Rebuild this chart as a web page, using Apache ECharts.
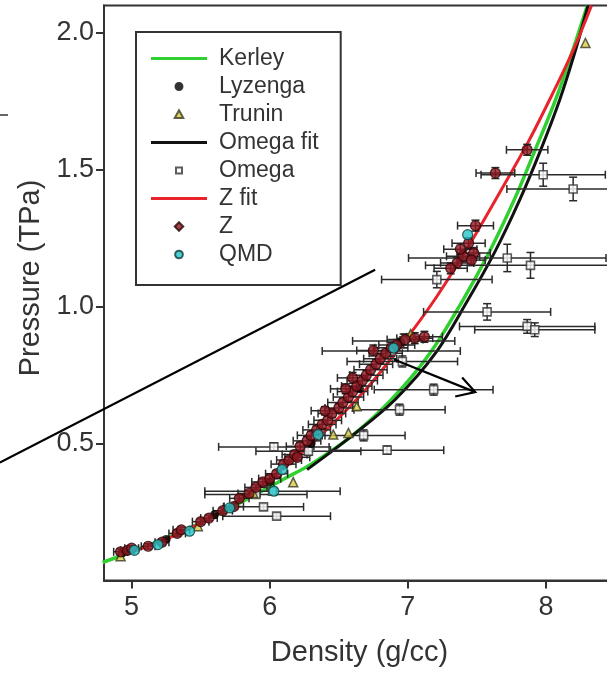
<!DOCTYPE html>
<html><head><meta charset="utf-8">
<script src="https://cdn.jsdelivr.net/npm/echarts@6/dist/echarts.min.js"></script>
<style>html,body{margin:0;padding:0;background:#fff}#c{width:607px;height:675px}</style>
</head><body><div id="c"></div>
<script>
// ---- tick labels ----
const xTicks = [5, 6, 7, 8];
const yTicks = [0.5, 1.0, 1.5, 2.0];

// ---- fit curves (density g/cc, pressure TPa) ----
const kerleyD = [4.79, 5.0, 5.3, 5.6, 5.9, 6.1, 6.3, 6.6, 6.88, 7.16, 7.40, 7.59, 7.77, 7.92, 8.07, 8.19, 8.30];
const kerleyP = [0.066, 0.105, 0.165, 0.235, 0.315, 0.37, 0.425, 0.53, 0.66, 0.83, 1.025, 1.2, 1.39, 1.57, 1.756, 1.93, 2.1];
const omegaFitD = [6.27, 6.6, 6.907, 7.2, 7.436, 7.63, 7.81, 7.96, 8.10, 8.21, 8.305];
const omegaFitP = [0.405, 0.53, 0.66, 0.83, 1.025, 1.2, 1.39, 1.57, 1.756, 1.93, 2.1];
const zFitD = [4.9, 5.2, 5.5, 5.8, 6.1, 6.4, 6.7, 6.97, 7.2, 7.45, 7.68, 7.87, 8.05, 8.2, 8.33];
const zFitP = [0.09, 0.14, 0.21, 0.30, 0.41, 0.545, 0.70, 0.87, 1.03, 1.23, 1.43, 1.6, 1.78, 1.94, 2.1];

// ---- Lyzenga ----
const lyzD = [4.93, 5.25, 5.6, 6.0, 6.3, 6.65, 6.95];
const lyzP = [0.10, 0.15, 0.24, 0.36, 0.50, 0.70, 0.87];

// ---- Trunin ----
const truD = [8.286, 6.17, 6.46, 6.57, 6.63, 4.92, 5.48, 5.88, 7.02];
const truP = [1.963, 0.359, 0.533, 0.539, 0.636, 0.089, 0.198, 0.32, 0.90];

// ---- Omega (density, pressure, density error, pressure error) ----
const omD  = [7.98, 8.197, 7.72, 7.888, 7.21, 7.574, 7.864, 7.919, 7.187, 6.94, 6.68, 6.85, 6.97, 6.88, 6.96, 6.03, 6.28, 5.955, 6.05, 6.02, 5.9];
const omP  = [1.482, 1.43, 1.178, 1.151, 1.099, 0.981, 0.928, 0.916, 0.697, 0.624, 0.53, 0.476, 0.875, 0.838, 0.80, 0.488, 0.472, 0.269, 0.235, 0.326, 0.314];
const omDx = [0.45, 0.48, 0.715, 0.76, 0.40, 0.46, 0.49, 0.435, 0.43, 0.33, 0.30, 0.41, 0.37, 0.50, 0.40, 0.40, 0.38, 0.29, 0.39, 0.49, 0.37];
const omPy = [0.042, 0.043, 0.05, 0.047, 0.03, 0.03, 0.025, 0.025, 0.02, 0.02, 0.02, 0.015, 0.025, 0.02, 0.02, 0.015, 0.015, 0.01, 0.01, 0.01, 0.01];

// ---- Z (density, pressure, density error, pressure error) ----
const zD  = [7.864, 7.634, 7.49, 7.44, 7.477, 7.40, 7.357, 7.31, 7.46, 7.38,
             4.92, 4.97, 5.0, 5.12, 5.22, 5.33, 5.36, 5.5, 5.56, 5.66, 5.74, 5.78, 5.85, 5.9, 5.95, 6.0,
             6.05, 6.1, 6.14, 6.18, 6.22, 6.27, 6.3, 6.34, 6.38, 6.42, 6.45, 6.5, 6.53, 6.57, 6.6, 6.63,
             6.67, 6.7, 6.73, 6.77, 6.8, 6.84, 6.88, 6.92, 6.98, 7.05, 7.12, 6.75, 6.6, 6.4, 6.55, 6.2];
const zP  = [1.573, 1.488, 1.296, 1.232, 1.196, 1.184, 1.16, 1.14, 1.17, 1.21,
             0.105, 0.11, 0.118, 0.125, 0.14, 0.172, 0.185, 0.215, 0.228, 0.255, 0.27, 0.30, 0.318, 0.34, 0.36, 0.372,
             0.39, 0.425, 0.44, 0.46, 0.49, 0.51, 0.53, 0.55, 0.57, 0.585, 0.61, 0.63, 0.65, 0.67, 0.69, 0.71,
             0.73, 0.75, 0.77, 0.79, 0.81, 0.83, 0.85, 0.86, 0.88, 0.885, 0.89, 0.84, 0.74, 0.62, 0.70, 0.45];
const zDx = [0.15, 0.14, 0.13, 0.12, 0.12, 0.12, 0.12, 0.12, 0.10, 0.12,
             0.05, 0.05, 0.05, 0.05, 0.05, 0.06, 0.06, 0.06, 0.06, 0.07, 0.07, 0.07, 0.08, 0.08, 0.08, 0.08,
             0.08, 0.09, 0.09, 0.09, 0.10, 0.10, 0.10, 0.10, 0.10, 0.10, 0.10, 0.10, 0.11, 0.11, 0.11, 0.11,
             0.11, 0.12, 0.12, 0.12, 0.12, 0.12, 0.12, 0.13, 0.13, 0.13, 0.13, 0.12, 0.11, 0.10, 0.11, 0.09];
const zPy = [0.02, 0.02, 0.02, 0.02, 0.02, 0.02, 0.02, 0.02, 0.02, 0.02,
             0.01, 0.01, 0.01, 0.01, 0.01, 0.01, 0.01, 0.01, 0.01, 0.01, 0.01, 0.01, 0.01, 0.01, 0.012, 0.012,
             0.012, 0.012, 0.012, 0.015, 0.015, 0.015, 0.015, 0.015, 0.015, 0.015, 0.015, 0.015, 0.015, 0.015, 0.018, 0.018,
             0.018, 0.018, 0.018, 0.018, 0.018, 0.02, 0.02, 0.02, 0.02, 0.02, 0.02, 0.02, 0.02, 0.015, 0.018, 0.012];

// ---- QMD ----
const qmdD = [5.02, 5.19, 5.42, 5.71, 6.03, 6.09, 6.35, 6.897, 7.433];
const qmdP = [0.11, 0.131, 0.18, 0.265, 0.326, 0.405, 0.533, 0.849, 1.263];

// ---- hand-drawn annotation strokes (data coordinates) ----
const annoLongLine = [[4.046, 0.431], [6.763, 1.135]];
const annoArrow = [[6.90, 0.807], [7.488, 0.688]];
const annoArrowHead = [[7.343, 0.672], [7.488, 0.688], [7.393, 0.741]];

const pairs = (a, b) => a.map((v, i) => [v, b[i]]);
const quads = (a, b, c, d) => a.map((v, i) => [v, b[i], c[i], d[i]]);

const FONT = 'Liberation Sans, Arial, sans-serif';
const chart = echarts.init(document.getElementById('c'), null, {renderer: 'canvas'});

function errRender(params, api) {
  const d = api.value(0), p = api.value(1), dx = api.value(2), dy = api.value(3);
  const L = api.coord([d - dx, p]), R = api.coord([d + dx, p]);
  const B = api.coord([d, p - dy]), T = api.coord([d, p + dy]);
  const st = {stroke: '#2a2a2a', lineWidth: 1.5};
  const c = 4;
  const ch = [
    {type: 'line', shape: {x1: L[0], y1: L[1], x2: R[0], y2: R[1]}, style: st},
    {type: 'line', shape: {x1: L[0], y1: L[1] - c, x2: L[0], y2: L[1] + c}, style: st},
    {type: 'line', shape: {x1: R[0], y1: R[1] - c, x2: R[0], y2: R[1] + c}, style: st}
  ];
  if (Math.abs(B[1] - T[1]) > 3) {
    ch.push({type: 'line', shape: {x1: B[0], y1: B[1], x2: T[0], y2: T[1]}, style: st});
    ch.push({type: 'line', shape: {x1: B[0] - c, y1: B[1], x2: B[0] + c, y2: B[1]}, style: st});
    ch.push({type: 'line', shape: {x1: T[0] - c, y1: T[1], x2: T[0] + c, y2: T[1]}, style: st});
  }
  return {type: 'group', children: ch};
}

const LINE_ICON = 'path://M0,0H56V3.2H0Z';
const option = {
  backgroundColor: '#fff',
  animation: false,
  grid: {left: 104, top: 5.5, width: 511, height: 575, outerBoundsMode: 'none', containLabel: false,
    show: true, borderColor: '#333', borderWidth: 2, backgroundColor: 'transparent'},
  xAxis: {
    type: 'value', min: 4.8, max: 8.5,
    name: 'Density (g/cc)', nameLocation: 'middle', nameGap: 58,
    nameTextStyle: {fontFamily: FONT, fontSize: 29, color: '#333'},
    axisLine: {show: true, lineStyle: {color: '#333', width: 2}},
    axisTick: {show: true, customValues: xTicks, length: 8, lineStyle: {color: '#333', width: 2}},
    axisLabel: {customValues: xTicks, fontFamily: FONT, fontSize: 27, color: '#333', margin: 14},
    splitLine: {show: false}
  },
  yAxis: {
    type: 'value', min: 0, max: 2.1,
    name: 'Pressure (TPa)', nameLocation: 'middle', nameGap: 58, nameRotate: 90,
    nameTextStyle: {fontFamily: FONT, fontSize: 29, color: '#333', padding: [0, 0, 0, 30]},
    axisLine: {show: true, lineStyle: {color: '#333', width: 2}},
    axisTick: {show: true, customValues: yTicks, length: 8, lineStyle: {color: '#333', width: 2}},
    axisLabel: {customValues: yTicks, fontFamily: FONT, fontSize: 27, color: '#333', margin: 10,
      formatter: v => v.toFixed(1)},
    splitLine: {show: false}
  },
  legend: {
    orient: 'vertical', left: 136, top: 32,
    data: [
      {name: 'Kerley', icon: LINE_ICON},
      {name: 'Lyzenga', icon: 'path://M0,0M7,1.8A5.2,5.2,0,1,1,6.99,1.8ZM14,14'},
      {name: 'Trunin', icon: 'path://M0,0M7,2L12,11H2ZM14,14'},
      {name: 'Omega fit', icon: LINE_ICON},
      {name: 'Omega', icon: 'path://M0,0M3.5,3.5H10.5V10.5H3.5ZM14,14'},
      {name: 'Z fit', icon: LINE_ICON},
      {name: 'Z', icon: 'path://M0,0M7,2L12,7L7,12L2,7ZM14,14'},
      {name: 'QMD', icon: 'path://M0,0M7,2.5A4.5,4.5,0,1,1,6.99,2.5ZM14,14'}
    ],
    itemWidth: 56, itemHeight: 12, itemGap: 5, symbolKeepAspect: true,
    padding: [15, 22, 19, 15],
    borderColor: '#333', borderWidth: 2, backgroundColor: '#fff',
    textStyle: {fontFamily: FONT, fontSize: 23, color: '#333', padding: [0, 0, 0, 7]},
    selectedMode: false
  },
  series: [
    {name: 'Kerley', type: 'line', data: pairs(kerleyD, kerleyP), smooth: 0.35, symbol: 'none',
      lineStyle: {color: '#2fd02f', width: 3.5}, itemStyle: {color: '#2fd02f'}, z: 2},
    {name: 'Omega fit', type: 'line', data: pairs(omegaFitD, omegaFitP), smooth: 0.35, symbol: 'none',
      lineStyle: {color: '#111', width: 3}, itemStyle: {color: '#111'}, z: 2},
    {name: 'Z fit', type: 'line', data: pairs(zFitD, zFitP), smooth: 0.35, symbol: 'none',
      lineStyle: {color: '#e8232b', width: 3}, itemStyle: {color: '#e8232b'}, z: 2},
    {name: 'OmegaErr', type: 'custom', renderItem: errRender, data: quads(omD, omP, omDx, omPy),
      encode: {x: 0, y: 1}, z: 3, silent: true},
    {name: 'ZErr', type: 'custom', renderItem: errRender, data: quads(zD, zP, zDx, zPy),
      encode: {x: 0, y: 1}, z: 3, silent: true},
    {name: 'Omega', type: 'scatter', data: pairs(omD, omP), symbol: 'rect', symbolSize: 8,
      itemStyle: {color: '#fff', borderColor: '#333', borderWidth: 1.6}, z: 4},
    {name: 'Lyzenga', type: 'scatter', data: pairs(lyzD, lyzP), symbol: 'circle', symbolSize: 9,
      itemStyle: {color: '#000'}, z: 4},
    {name: 'Trunin', type: 'scatter', data: pairs(truD, truP), symbol: 'triangle', symbolSize: 9,
      itemStyle: {color: '#d8cc45', borderColor: '#3a3a20', borderWidth: 1.5}, z: 5},
    {name: 'Z', type: 'scatter', data: pairs(zD, zP), symbol: 'circle', symbolSize: 10,
      itemStyle: {color: '#8e1620', borderColor: '#2a0505', borderWidth: 1.2}, z: 5},
    {name: 'QMD', type: 'scatter', data: pairs(qmdD, qmdP), symbol: 'circle', symbolSize: 10,
      itemStyle: {color: '#26c4c8', borderColor: '#0b3b3b', borderWidth: 1.2}, z: 6}
  ]
};
chart.setOption(option);

// annotations drawn in data coordinates, converted to pixels
const px = pt => chart.convertToPixel({gridIndex: 0}, pt);
const stroke = {stroke: '#000', lineWidth: 2.2, fill: null};
chart.setOption({
  graphic: [
    {type: 'polyline', shape: {points: annoLongLine.map(px)}, style: stroke, z: 100},
    {type: 'polyline', shape: {points: annoArrow.map(px)}, style: stroke, z: 100},
    {type: 'polyline', shape: {points: annoArrowHead.map(px)}, style: stroke, z: 100},
    {type: 'line', shape: {x1: 0, y1: 115, x2: 8, y2: 115}, style: {stroke: '#333', lineWidth: 1.5}, z: 100}
  ]
});
</script>
</body></html>
